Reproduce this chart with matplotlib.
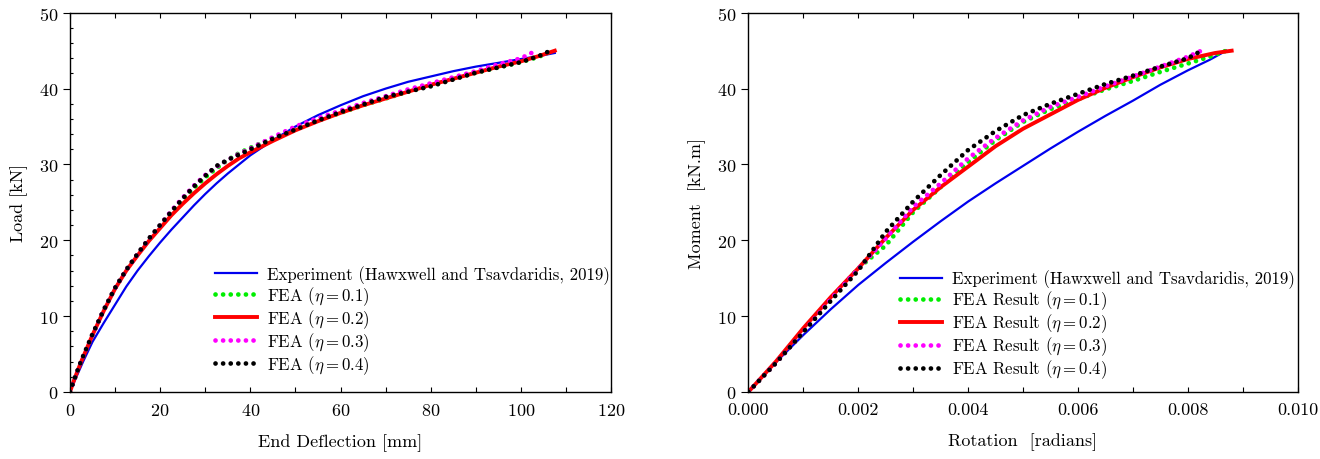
import matplotlib
matplotlib.use("Agg")
from matplotlib import pyplot as plt
from matplotlib.ticker import MultipleLocator

plt.rcParams["font.family"] = "serif"
plt.rcParams["font.serif"] = ["cmr10"]
plt.rcParams["mathtext.fontset"] = "cm"
plt.rcParams["axes.unicode_minus"] = False
plt.rcParams["axes.formatter.use_mathtext"] = True

# left panel: load vs end deflection
defl_exp = [0, 1, 3, 5, 7.5, 10, 12.5, 15, 17.5, 20, 22.5, 25, 27.5, 30, 32.5, 35, 37.5, 40,
            45, 50, 55, 60, 65, 70, 75, 80, 85, 90, 95, 100, 104, 107.5]
load_exp = [0, 1.4, 4.1, 6.6, 9.1, 11.5, 13.9, 16.0, 17.9, 19.7, 21.4, 23.0, 24.6, 26.1, 27.5, 28.8, 30.0, 31.2,
            33.2, 35.0, 36.5, 37.8, 39.0, 40.0, 40.9, 41.6, 42.3, 42.9, 43.4, 43.9, 44.3, 44.7]

defl_fea = [0, 1, 2.5, 5, 7.5, 10, 12.5, 15, 17.5, 20, 22.5, 25, 27.5, 30, 32.5, 35, 37.5, 40,
            45, 50, 55, 60, 65, 70, 75, 80, 85, 90, 95, 100, 104]
defl_01 = defl_fea + [107]
load_01 = [0, 1.7, 4.1, 7.6, 10.8, 13.7, 16.1, 18.2, 20.2, 22.0, 23.8, 25.4, 26.9, 28.3, 29.5, 30.6, 31.5, 32.2,
           33.5, 34.7, 35.8, 36.8, 37.8, 38.7, 39.6, 40.4, 41.3, 42.1, 42.8, 43.5, 44.2, 45.0]

defl_02 = defl_fea + [107.5]
load_02 = [0, 1.7, 4.0, 7.5, 10.7, 13.6, 16.0, 18.0, 19.9, 21.6, 23.3, 24.8, 26.2, 27.5, 28.7, 29.8, 30.8, 31.6,
           33.1, 34.5, 35.7, 36.8, 37.8, 38.7, 39.6, 40.5, 41.3, 42.1, 42.9, 43.6, 44.3, 45.0]

defl_03 = defl_fea[:-1] + [103]
load_03 = [0, 1.7, 4.1, 7.6, 10.8, 13.7, 16.1, 18.2, 20.2, 22.0, 23.9, 25.6, 27.2, 28.6, 29.7, 30.6, 31.4, 32.1,
           33.6, 35.0, 36.1, 37.1, 38.1, 39.0, 39.9, 40.7, 41.5, 42.3, 43.2, 44.0, 44.9]

defl_04 = defl_fea + [106.5]
load_04 = [0, 1.7, 4.1, 7.6, 10.8, 13.7, 16.1, 18.2, 20.2, 22.0, 23.8, 25.5, 27.1, 28.5, 29.8, 30.6, 31.3, 32.0,
           33.4, 34.6, 35.8, 36.9, 37.9, 38.9, 39.6, 40.3, 41.2, 42.1, 42.8, 43.5, 44.3, 45.0]

# right panel: moment vs rotation
rot = [0, 0.0005, 0.001, 0.0015, 0.002, 0.0025, 0.003, 0.0035, 0.004, 0.0045, 0.005,
       0.0055, 0.006, 0.0065, 0.007, 0.0075, 0.008]

rot_exp = rot + [0.0084, 0.0087]
mom_exp = [0, 3.9, 7.5, 10.9, 14.1, 17.0, 19.8, 22.5, 25.1, 27.5, 29.8,
           32.1, 34.3, 36.4, 38.4, 40.5, 42.4, 43.8, 45.0]

rot_01 = rot + [0.0084, 0.0087]
mom_01 = [0, 3.8, 7.9, 12.2, 16.3, 19.3, 23.7, 27.0, 30.3, 33.2, 35.6,
          37.3, 38.6, 39.9, 41.0, 42.2, 43.3, 44.2, 45.0]

rot_02 = rot + [0.0085, 0.0088]
mom_02 = [0, 4.0, 8.4, 12.5, 16.3, 20.3, 24.0, 27.0, 29.7, 32.4, 34.7,
          36.6, 38.5, 40.1, 41.5, 42.8, 43.9, 44.7, 45.0]

rot_03 = rot + [0.00828]
mom_03 = [0, 3.8, 7.9, 12.2, 16.2, 20.2, 24.4, 27.5, 30.8, 33.5, 35.8,
          37.6, 38.9, 40.3, 41.6, 42.9, 44.2, 45.1]

rot_04 = rot + [0.0082]
mom_04 = [0, 3.8, 7.9, 12.0, 16.0, 21.1, 25.1, 28.6, 31.9, 34.4, 36.5,
          38.0, 39.3, 40.6, 41.7, 42.9, 44.0, 44.8]

etas = ["0.1", "0.2", "0.3", "0.4"]
colors = ["#00ee00", "red", "magenta", "black"]

dots = dict(linestyle=(0, (0.01, 1.6)), dash_capstyle="round", linewidth=3.4)

fig = plt.figure(figsize=(13.2, 4.6), dpi=100)
ax1 = fig.add_axes([0.053, 0.146, 0.410, 0.824])
ax2 = fig.add_axes([0.567, 0.146, 0.416, 0.824])


def style_axes(ax):
    ax.tick_params(axis="x", which="both", direction="in", top=True, length=3.5, width=0.8, labelsize=13, pad=7)
    ax.tick_params(axis="y", which="major", direction="out", length=5, width=0.8, labelsize=13)
    ax.tick_params(axis="y", which="minor", direction="in", length=2.5, width=0.8)
    for s in ax.spines.values():
        s.set_linewidth(1.0)


def draw(ax, exp, series, prefix):
    ax.plot(exp[0], exp[1], color="#0000ee", lw=1.6,
            label="Experiment (Hawxwell and Tsavdaridis, 2019)")
    for (x, y), eta, c in zip(series, etas, colors):
        lbl = prefix + r" ($\eta = %s$)" % eta
        if eta == "0.2":
            ax.plot(x, y, color=c, lw=2.8, label=lbl)
        else:
            ax.plot(x, y, color=c, label=lbl, **dots)


# left
draw(ax1, (defl_exp, load_exp),
     [(defl_01, load_01), (defl_02, load_02), (defl_03, load_03), (defl_04, load_04)], "FEA")
ax1.set_xlim(0, 120)
ax1.set_ylim(0, 50)
ax1.xaxis.set_major_locator(MultipleLocator(20))
ax1.xaxis.set_minor_locator(MultipleLocator(10))
ax1.yaxis.set_major_locator(MultipleLocator(10))
ax1.yaxis.set_minor_locator(MultipleLocator(2))
style_axes(ax1)
ax1.set_xlabel("End Deflection [mm]", fontsize=13, labelpad=11)
ax1.set_ylabel("Load [kN]", fontsize=13, labelpad=8)
ax1.legend(loc="upper left", bbox_to_anchor=(0.255, 0.352), frameon=False, fontsize=12.1,
           handlelength=2.5, labelspacing=0.02, borderaxespad=0, handletextpad=0.6)

# right
draw(ax2, (rot_exp, mom_exp),
     [(rot_01, mom_01), (rot_02, mom_02), (rot_03, mom_03), (rot_04, mom_04)], "FEA Result")
ax2.set_xlim(0, 0.010)
ax2.set_ylim(0, 50)
ax2.xaxis.set_major_locator(MultipleLocator(0.002))
ax2.xaxis.set_minor_locator(MultipleLocator(0.001))
ax2.xaxis.set_major_formatter(plt.FormatStrFormatter("%.3f"))
ax2.yaxis.set_major_locator(MultipleLocator(10))
style_axes(ax2)
ax2.set_xlabel("Rotation  [radians]", fontsize=13, labelpad=11)
ax2.set_ylabel("Moment  [kN.m]", fontsize=13, labelpad=8)
ax2.legend(loc="upper left", bbox_to_anchor=(0.263, 0.34), frameon=False, fontsize=12.1,
           handlelength=2.5, labelspacing=0.02, borderaxespad=0, handletextpad=0.6)

fig.savefig("out.png", dpi=100)
